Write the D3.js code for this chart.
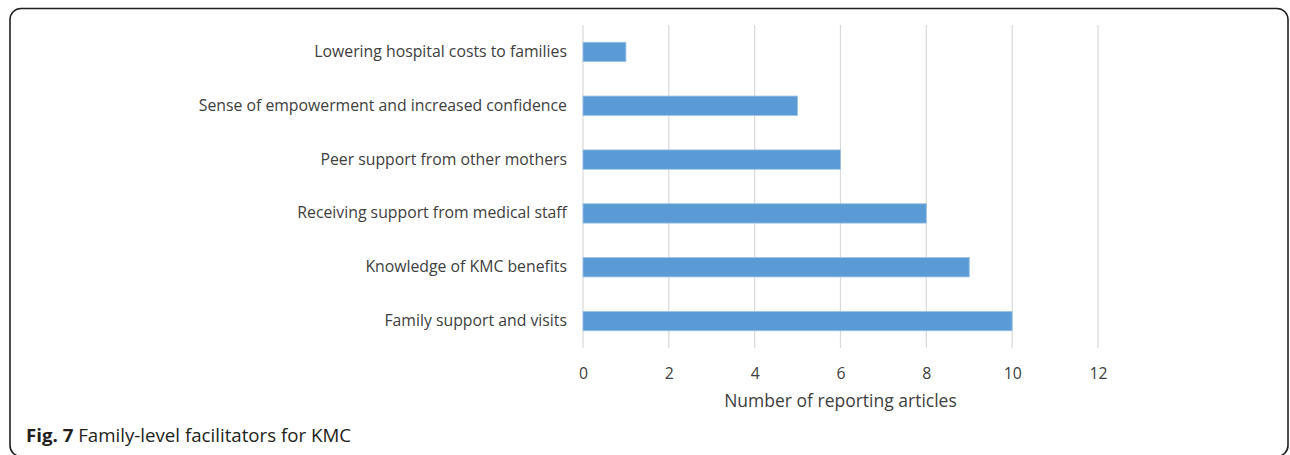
<!DOCTYPE html>
<html>
<head>
<meta charset="utf-8">
<script src="https://cdn.jsdelivr.net/npm/d3@7"></script>
<style>
  body { margin: 0; background: #fff; }
  svg { display: block; }
</style>
</head>
<body>
<svg id="chart" width="1290" height="455"></svg>
<script>
const categories = [
  "Lowering hospital costs to families",
  "Sense of empowerment and increased confidence",
  "Peer support from other mothers",
  "Receiving support from medical staff",
  "Knowledge of KMC benefits",
  "Family support and visits"
];
const counts = [1, 5, 6, 8, 9, 10];
const xTicks = [0, 2, 4, 6, 8, 10, 12];

const font = "'Open Sans', sans-serif";
const svg = d3.select("#chart");

// frame
svg.append("rect")
  .attr("x", 10).attr("y", 8.5)
  .attr("width", 1278).attr("height", 448)
  .attr("rx", 11)
  .attr("fill", "none")
  .attr("stroke", "#231f20")
  .attr("stroke-width", 1.6);

const x = d3.scaleLinear().domain([0, 12]).range([583, 1098]);
const y = d3.scaleBand().domain(categories).range([25, 348]).paddingInner(0.64).paddingOuter(0.32);

// gridlines
svg.append("g")
  .selectAll("line")
  .data(xTicks)
  .join("line")
  .attr("x1", d => x(d)).attr("x2", d => x(d))
  .attr("y1", 25).attr("y2", 348)
  .attr("stroke", "#d9d9d9")
  .attr("stroke-width", 1.2);

// bars
svg.append("g")
  .selectAll("rect")
  .data(counts)
  .join("rect")
  .attr("x", x(0))
  .attr("y", (d, i) => y(categories[i]))
  .attr("width", d => x(d) - x(0))
  .attr("height", y.bandwidth())
  .attr("fill", "#5b9bd5")
  .attr("stroke", "#9dc3e6")
  .attr("stroke-width", 0.8);

// y axis labels
const yAxis = d3.axisLeft(y).tickSize(0).tickPadding(16);
svg.append("g")
  .attr("transform", `translate(${x(0)},0)`)
  .call(yAxis)
  .call(g => g.select(".domain").remove())
  .call(g => g.selectAll("text")
    .attr("font-family", font)
    .attr("font-size", 15.8)
    .attr("fill", "#404040"));

// x axis labels
const xAxis = d3.axisBottom(x).tickValues(xTicks).tickSize(0).tickPadding(16);
svg.append("g")
  .attr("transform", "translate(0,352)")
  .call(xAxis)
  .call(g => g.select(".domain").remove())
  .call(g => g.selectAll("text")
    .attr("font-family", font)
    .attr("font-size", 15.8)
    .attr("fill", "#404040"));

svg.append("text")
  .attr("x", (x(0) + x(12)) / 2)
  .attr("y", 407)
  .attr("text-anchor", "middle")
  .attr("font-family", font)
  .attr("font-size", 17.5)
  .attr("fill", "#404040")
  .text("Number of reporting articles");

// caption
const cap = svg.append("text")
  .attr("x", 26)
  .attr("y", 442)
  .attr("font-family", font)
  .attr("font-size", 18)
  .attr("textLength", 325)
  .attr("lengthAdjust", "spacingAndGlyphs")
  .attr("fill", "#231f20");
cap.append("tspan").attr("font-weight", "bold").text("Fig. 7");
cap.append("tspan").text(" Family-level facilitators for KMC");
</script>
</body>
</html>
